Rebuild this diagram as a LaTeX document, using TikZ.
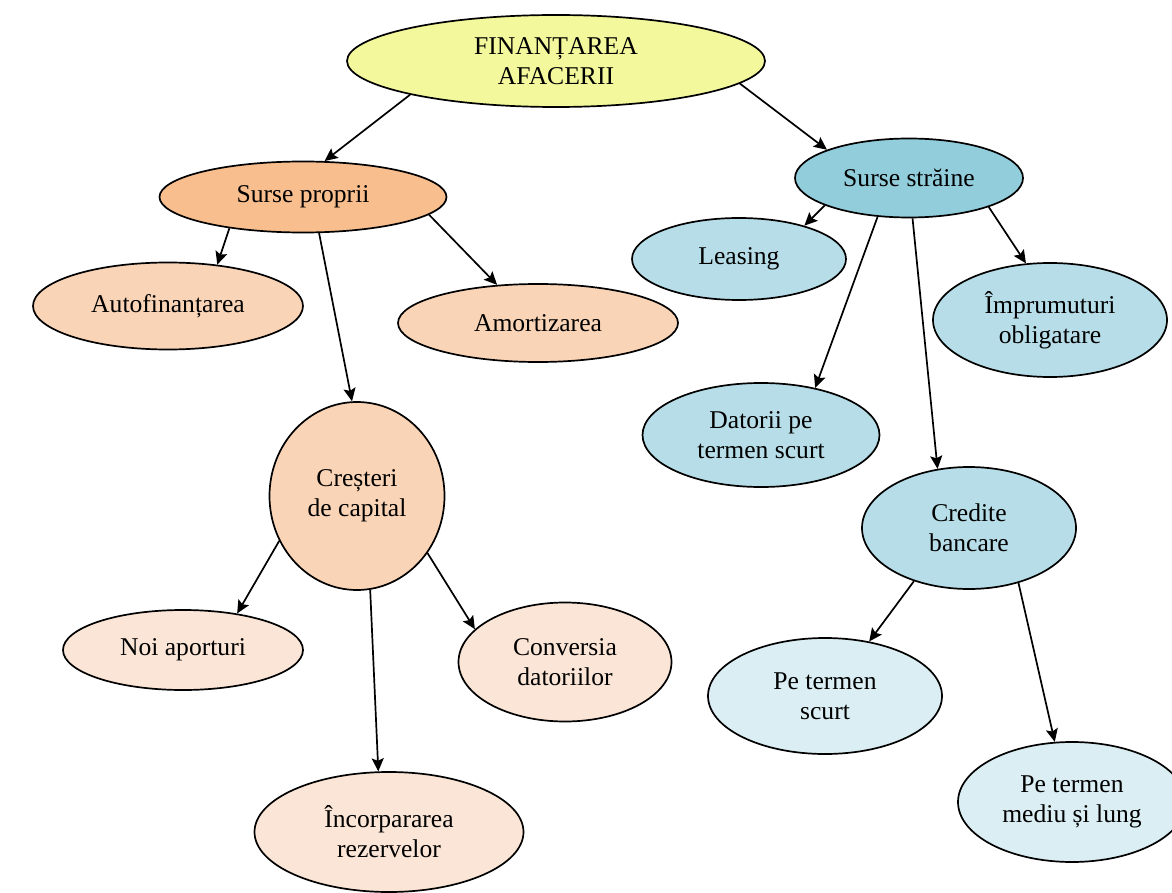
\documentclass[tikz,border=0pt]{standalone}
\usepackage{fontspec}
\setmainfont{Liberation Serif}
\usetikzlibrary{shapes.geometric,arrows.meta}

\definecolor{galben}{RGB}{244,248,156}
\definecolor{portocaliu}{RGB}{249,190,141}
\definecolor{piersica}{RGB}{250,212,182}
\definecolor{piersicadeschis}{RGB}{251,229,214}
\definecolor{albastru}{RGB}{146,205,220}
\definecolor{albastrudeschis}{RGB}{183,222,232}
\definecolor{albastrupal}{RGB}{218,238,243}

\begin{document}
\begin{tikzpicture}[x=0.5pt,y=-0.5pt,
	elip/.style={ellipse,draw,line width=0.85pt,inner sep=0pt,align=center,
		font=\fontsize{12.8}{15}\selectfont},
	sageata/.style={-{Stealth[length=6.5pt,width=6pt,inset=1.2pt]},line width=0.85pt}]
			\useasboundingbox (0,0) rectangle (1172,893);
			\clip (0,0) rectangle (1172,893);
			
			\node[elip,fill=galben,minimum width=209pt,minimum height=46pt] (fin) at (556,61) {FINANȚAREA\\AFACERII};
			
			\node[elip,fill=portocaliu,minimum width=143.5pt,minimum height=35.5pt] (sp) at (303,197) {Surse proprii};
			\node[elip,fill=piersica,minimum width=135pt,minimum height=43.5pt] (auto) at (168,306) {Autofinanțarea};
			\node[elip,fill=piersica,minimum width=140pt,minimum height=39pt] (amort) at (538,323) {Amortizarea};
			\node[elip,fill=piersica,minimum width=87.5pt,minimum height=94pt] (cres) at (357,496) {Creșteri\\de capital};
			\node[elip,fill=piersicadeschis,minimum width=120pt,minimum height=40pt] (noi) at (183,650) {Noi aporturi};
			\node[elip,fill=piersicadeschis,minimum width=106.5pt,minimum height=59.5pt] (conv) at (565,662) {Conversia\\datoriilor};
			\node[elip,fill=piersicadeschis,minimum width=134.5pt,minimum height=60pt] (incorp) at (389,832) {Încorpararea\\rezervelor};
			
			\node[elip,fill=albastru,minimum width=114pt,minimum height=39.5pt] (ss) at (909,178) {Surse străine};
			\node[elip,fill=albastrudeschis,minimum width=107pt,minimum height=41pt] (leasing) at (739,259) {Leasing};
			\node[elip,fill=albastrudeschis,minimum width=117pt,minimum height=57pt] (impr) at (1050,320) {Împrumuturi\\obligatare};
			\node[elip,fill=albastrudeschis,minimum width=118.5pt,minimum height=52pt] (dat) at (761,435) {Datorii pe\\termen scurt};
			\node[elip,fill=albastrudeschis,minimum width=107pt,minimum height=61pt] (cred) at (969,528) {Credite\\bancare};
			\node[elip,fill=albastrupal,minimum width=117pt,minimum height=58pt] (scurt) at (825,696) {Pe termen\\scurt};
			\node[elip,fill=albastrupal,minimum width=114pt,minimum height=60pt] (lung) at (1072,802) {Pe termen\\mediu și lung};
			
			\draw[sageata] (fin.193) -- (sp.59);
			\draw[sageata] (fin.353) -- (ss.161);
			
			\draw[sageata] (sp.203) -- (auto.40);
			\draw[sageata] (sp.352) -- (amort.137);
			\draw[sageata] (sp.294) -- (cres.93);
			
			\draw[sageata] (cres.210) -- (noi.34);
			\draw[sageata] (cres.321) -- (conv.160);
			\draw[sageata] (cres.278) -- (incorp.100);
			
			\draw[sageata] (ss.198) -- (leasing.27);
			\draw[sageata] (ss.231) -- (dat.41);
			\draw[sageata] (ss.275) -- (cred.118);
			\draw[sageata] (ss.340) -- (impr.113);
			
			\draw[sageata] (cred.224) -- (scurt.51);
			\draw[sageata] (cred.312) -- (lung.106);
		\end{tikzpicture}
\end{document}
